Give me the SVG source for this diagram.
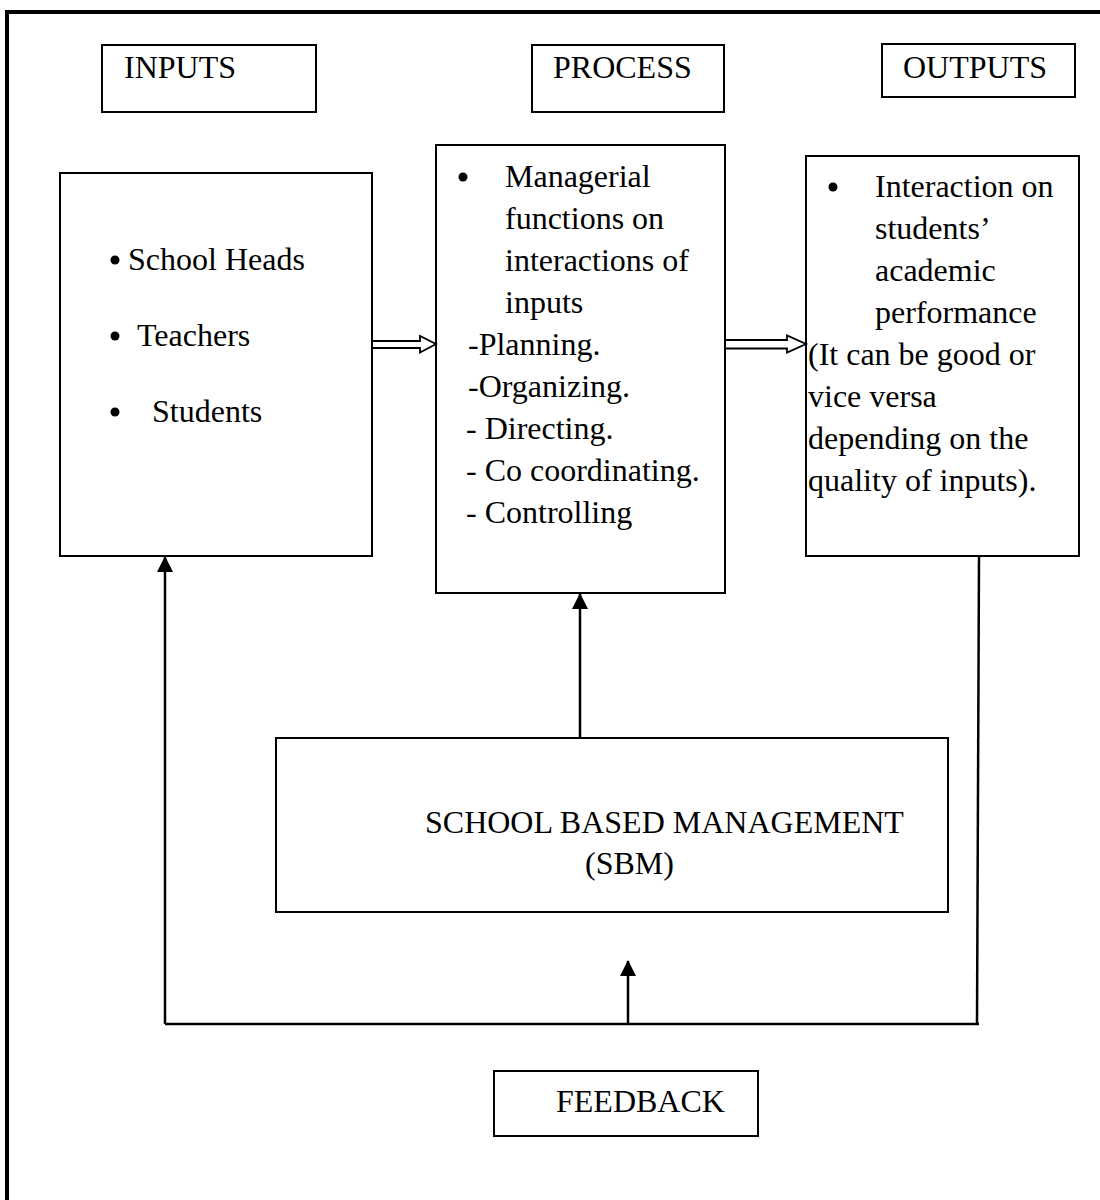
<svg xmlns="http://www.w3.org/2000/svg" width="1100" height="1200" viewBox="0 0 1100 1200">
<style>
.box{fill:#fff;stroke:#000;stroke-width:2}
.t{font-family:"Liberation Serif","Times New Roman",serif;font-size:32px;fill:#000}
.ln{stroke:#000;stroke-width:2.5;fill:none}
.dbl{stroke:#000;stroke-width:1.8;fill:none}
</style>
<defs>
<marker id="ah" markerWidth="16" markerHeight="16" viewBox="0 0 16 16" refX="15" refY="8" orient="auto" markerUnits="userSpaceOnUse">
<path d="M0,0 L16,8 L0,16 Z" fill="#000"/>
</marker>
</defs>
<rect width="1100" height="1200" fill="#fff"/>
<g id="frame">
<line x1="7" y1="12" x2="7" y2="1200" stroke="#000" stroke-width="4"/>
<line x1="5" y1="12" x2="1100" y2="12" stroke="#000" stroke-width="4"/>
</g>
<g id="inputs-label"><rect class="box" x="102" y="45" width="214" height="67"/><text class="t" x="124" y="78">INPUTS</text></g>
<g id="process-label"><rect class="box" x="532" y="45" width="192" height="67"/><text class="t" x="553" y="78">PROCESS</text></g>
<g id="outputs-label"><rect class="box" x="882" y="44" width="193" height="53"/><text class="t" x="903" y="78">OUTPUTS</text></g>
<g id="inputs">
<rect class="box" x="60" y="173" width="312" height="383"/>
<circle cx="115" cy="260" r="4.5"/><text class="t" x="128" y="270">School Heads</text>
<circle cx="115" cy="336" r="4.5"/><text class="t" x="137" y="346">Teachers</text>
<circle cx="115" cy="412" r="4.5"/><text class="t" x="152" y="422">Students</text>
</g>
<g id="process">
<rect class="box" x="436" y="145" width="289" height="448"/>
<circle cx="463" cy="177" r="4.5"/>
<text class="t" x="505" y="187">Managerial</text>
<text class="t" x="505" y="229">functions on</text>
<text class="t" x="505" y="271">interactions of</text>
<text class="t" x="505" y="313">inputs</text>
<text class="t" x="468" y="355">-Planning.</text>
<text class="t" x="468" y="397">-Organizing.</text>
<text class="t" x="466" y="439">- Directing.</text>
<text class="t" x="466" y="481">- Co coordinating.</text>
<text class="t" x="466" y="523">- Controlling</text>
</g>
<g id="outputs">
<rect class="box" x="806" y="156" width="273" height="400"/>
<circle cx="833" cy="187" r="4.5"/>
<text class="t" x="875" y="197">Interaction on</text>
<text class="t" x="875" y="239">students’</text>
<text class="t" x="875" y="281">academic</text>
<text class="t" x="875" y="323">performance</text>
<text class="t" x="808" y="365">(It can be good or</text>
<text class="t" x="808" y="407">vice versa</text>
<text class="t" x="808" y="449">depending on the</text>
<text class="t" x="808" y="491">quality of inputs).</text>
</g>
<g id="sbm">
<rect class="box" x="276" y="738" width="672" height="174"/>
<text class="t" x="425" y="833">SCHOOL BASED MANAGEMENT</text>
<text class="t" x="585" y="874">(SBM)</text>
</g>
<g id="feedback">
<rect class="box" x="494" y="1071" width="264" height="65"/>
<text class="t" x="556" y="1112">FEEDBACK</text>
</g>
<g id="connectors">
<path class="dbl" d="M372,341 H420 V336 L436,344 L420,352.5 V348 H372"/>
<path class="dbl" d="M726,340 H787 V335.5 L806,344 L787,352.5 V348.5 H726"/>
<line class="ln" x1="165" y1="1024" x2="979" y2="1024"/>
<line class="ln" x1="979" y1="556" x2="977" y2="1024"/>
<line class="ln" x1="165" y1="1024" x2="165" y2="557" marker-end="url(#ah)"/>
<line class="ln" x1="580" y1="738" x2="580" y2="594" marker-end="url(#ah)"/>
<line class="ln" x1="628" y1="1024" x2="628" y2="961" marker-end="url(#ah)"/>
</g>
</svg>
